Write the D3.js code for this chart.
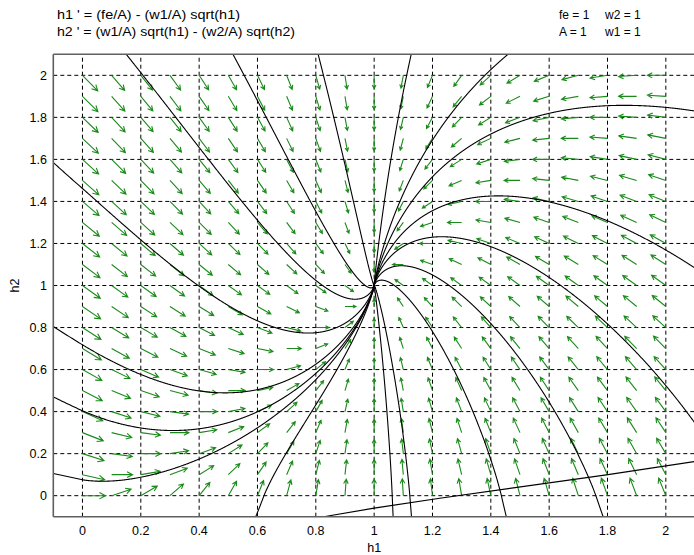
<!DOCTYPE html>
<html><head><meta charset="utf-8">
<script src="https://cdn.jsdelivr.net/npm/d3@7"></script>
<style>body{margin:0;background:#fff}svg{display:block}</style>
</head><body><svg id="c" width="694" height="555"></svg>
<script>
// Parameters shown in the chart
const fe = 1, A = 1, w1 = 1, w2 = 1;
const eqLine1 = "h1 ' = (fe/A) - (w1/A) sqrt(h1)";
const eqLine2 = "h2 ' = (w1/A) sqrt(h1) - (w2/A) sqrt(h2)";
const paramLabels1 = ["fe = 1", "w2 = 1"];
const paramLabels2 = ["A = 1", "w1 = 1"];

const xTicks = [0, 0.2, 0.4, 0.6, 0.8, 1, 1.2, 1.4, 1.6, 1.8, 2];
const xTickLabels = ["0", "0.2", "0.4", "0.6", "0.8", "1", "1.2", "1.4", "1.6", "1.8", "2"];
const yTicks = [0, 0.2, 0.4, 0.6, 0.8, 1, 1.2, 1.4, 1.6, 1.8, 2];
const yTickLabels = ["0", "0.2", "0.4", "0.6", "0.8", "1", "1.2", "1.4", "1.6", "1.8", "2"];

// Direction-field sample points
const arrowH1 = [0, 0.1, 0.2, 0.3, 0.4, 0.5, 0.6, 0.7, 0.8, 0.9, 1, 1.1, 1.2, 1.3, 1.4, 1.5, 1.6, 1.7, 1.8, 1.9, 2];
const arrowH2 = [0, 0.1, 0.2, 0.3, 0.4, 0.5, 0.6, 0.7, 0.8, 0.9, 1, 1.1, 1.2, 1.3, 1.4, 1.5, 1.6, 1.7, 1.8, 1.9, 2];

// Trajectory initial points (on the window border)
const trajStartH1 = [-0.1, -0.1, -0.1, -0.1, 0.15, 0.516, 0.808, 1.127, 1.459, 2.1, 2.1, 2.1, 0.594, 1.065, 1.128, 1.453, 1.785];
const trajStartH2 = [1.585, 0.805, 0.47, 0.106, 2.1, 2.1, 2.1, 2.1, 2.1, 1.83, 1.083, 0.345, -0.1, -0.1, -0.1, -0.1, -0.1];

// Extra solution segment below h2 = 0
const extraLineH1 = [0.827, 1.0, 1.225, 1.796, 2.1];
const extraLineH2 = [-0.1, -0.059, -0.012, 0.099, 0.163];

const svg = d3.select("#c");
const x = d3.scaleLinear().domain([-0.1, 2.1]).range([53.3, 695]);
const y = d3.scaleLinear().domain([-0.1, 2.1]).range([516.7, 54.3]);
const font = "Liberation Sans, Arial, sans-serif";

function field(h1, h2) {
  const s1 = Math.sqrt(Math.max(h1, 0)), s2 = Math.sqrt(Math.max(h2, 0));
  return [fe / A - (w1 / A) * s1, (w1 / A) * s1 - (w2 / A) * s2];
}

svg.append("defs").append("clipPath").attr("id", "clip")
  .append("rect").attr("x", x(-0.1)).attr("y", y(2.1))
  .attr("width", x(2.1) - x(-0.1)).attr("height", y(-0.1) - y(2.1));

// Grid
const grid = svg.append("g").attr("clip-path", "url(#clip)");
grid.selectAll(".gx").data(xTicks).join("line")
  .attr("x1", d => x(d)).attr("x2", d => x(d))
  .attr("y1", y(-0.1)).attr("y2", y(2.1))
  .attr("stroke", "#000").attr("stroke-width", 1).attr("stroke-dasharray", "4,3");
grid.selectAll(".gy").data(yTicks).join("line")
  .attr("y1", d => y(d)).attr("y2", d => y(d))
  .attr("x1", x(-0.1)).attr("x2", x(2.1))
  .attr("stroke", "#000").attr("stroke-width", 1).attr("stroke-dasharray", "4,3");

// Direction field arrows
const arrows = [];
arrowH2.forEach(h2 => arrowH1.forEach(h1 => {
  const [f, g] = field(h1, h2);
  const m = Math.hypot(f, g);
  if (m < 1e-9) return;
  const L = 0.079 * Math.pow(m, 0.25);
  const x0 = x(h1), y0 = y(h2), x1 = x(h1 + f / m * L), y1 = y(h2 + g / m * L);
  arrows.push([x0, y0, x1, y1]);
}));
const ag = svg.append("g").attr("clip-path", "url(#clip)")
  .attr("stroke", "#1a8a1a").attr("stroke-width", 1.1).attr("fill", "none");
ag.selectAll("path").data(arrows).join("path").attr("d", a => {
  const [x0, y0, x1, y1] = a;
  const ang = Math.atan2(y1 - y0, x1 - x0);
  const len = Math.hypot(x1 - x0, y1 - y0);
  const hl = Math.max(3.5, 0.3 * len), da = 0.48;
  const ax = x1 - hl * Math.cos(ang - da), ay = y1 - hl * Math.sin(ang - da);
  const bx = x1 - hl * Math.cos(ang + da), by = y1 - hl * Math.sin(ang + da);
  return `M${x0},${y0}L${x1},${y1}M${ax},${ay}L${x1},${y1}L${bx},${by}`;
});

// Trajectories (integrated from initial points with RK4)
function integrate(p0) {
  const pts = [p0.slice()];
  let [a, b] = p0;
  const dt = 0.004;
  for (let i = 0; i < 20000; i++) {
    const k1 = field(a, b);
    const k2 = field(a + dt / 2 * k1[0], b + dt / 2 * k1[1]);
    const k3 = field(a + dt / 2 * k2[0], b + dt / 2 * k2[1]);
    const k4 = field(a + dt * k3[0], b + dt * k3[1]);
    a += dt / 6 * (k1[0] + 2 * k2[0] + 2 * k3[0] + k4[0]);
    b += dt / 6 * (k1[1] + 2 * k2[1] + 2 * k3[1] + k4[1]);
    pts.push([a, b]);
    if (Math.hypot(a - 1, b - 1) < 0.001) break;
  }
  return pts;
}
const trajs = trajStartH1.map((h1, i) => integrate([h1, trajStartH2[i]]));
const line = d3.line().x(d => x(d[0])).y(d => y(d[1]));
const tg = svg.append("g").attr("clip-path", "url(#clip)")
  .attr("fill", "none").attr("stroke", "#000").attr("stroke-width", 1.1);
tg.selectAll("path.t").data(trajs).join("path").attr("class", "t").attr("d", line);
tg.append("path").datum(extraLineH1.map((h, i) => [h, extraLineH2[i]])).attr("d", line);

// Frame
const fr = svg.append("g").attr("stroke", "#606060").attr("stroke-width", 1.6).attr("fill", "none");
fr.append("line").attr("x1", x(-0.1)).attr("x2", x(-0.1)).attr("y1", y(2.1)).attr("y2", y(-0.1));
fr.append("line").attr("x1", x(-0.1)).attr("x2", x(2.1)).attr("y1", y(-0.1)).attr("y2", y(-0.1));
fr.append("line").attr("x1", x(-0.1)).attr("x2", x(2.1)).attr("y1", y(2.1)).attr("y2", y(2.1));

// Tick labels
svg.append("g").selectAll("text").data(xTicks).join("text")
  .attr("x", d => x(d)).attr("y", 535).attr("text-anchor", "middle")
  .attr("font-family", font).attr("font-size", 12.5).text((d, i) => xTickLabels[i]);
svg.append("g").selectAll("text").data(yTicks).join("text")
  .attr("x", 47).attr("y", d => y(d) + 4.5).attr("text-anchor", "end")
  .attr("font-family", font).attr("font-size", 12.5).text((d, i) => yTickLabels[i]);

// Axis titles
svg.append("text").attr("x", x(1)).attr("y", 552).attr("text-anchor", "middle")
  .attr("font-family", font).attr("font-size", 12.5).text("h1");
svg.append("text").attr("transform", `translate(19,${y(1)}) rotate(-90)`).attr("text-anchor", "middle")
  .attr("font-family", font).attr("font-size", 12.5).text("h2");

// Header texts
const hdr = svg.append("g").attr("font-family", font).attr("font-size", 12);
hdr.append("text").attr("x", 57).attr("y", 19).attr("textLength", 183).attr("lengthAdjust", "spacingAndGlyphs").text(eqLine1);
hdr.append("text").attr("x", 57).attr("y", 36).attr("textLength", 238).attr("lengthAdjust", "spacingAndGlyphs").text(eqLine2);
hdr.append("text").attr("x", 559).attr("y", 19).text(paramLabels1[0]);
hdr.append("text").attr("x", 605).attr("y", 19).text(paramLabels1[1]);
hdr.append("text").attr("x", 559).attr("y", 36).text(paramLabels2[0]);
hdr.append("text").attr("x", 605).attr("y", 36).text(paramLabels2[1]);
</script></body></html>
